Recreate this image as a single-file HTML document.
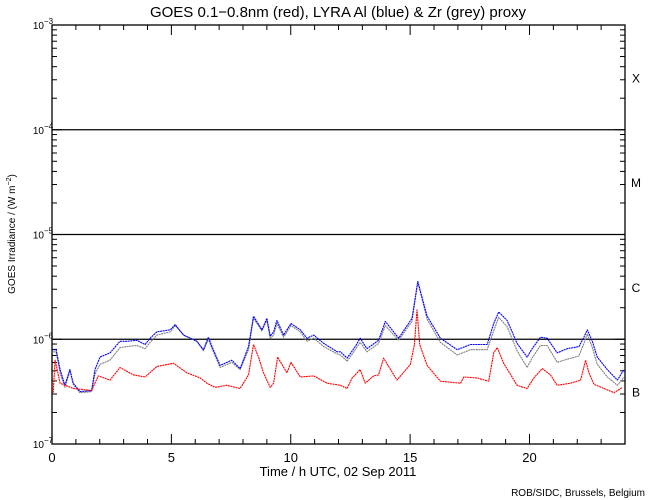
<!DOCTYPE html>
<html><head><meta charset="utf-8"><style>
html,body{margin:0;padding:0;background:#fff;}
svg{display:block;font-family:"Liberation Sans","DejaVu Sans",sans-serif;}
</style></head><body>
<svg id="chart" width="650" height="500" viewBox="0 0 650 500" xmlns="http://www.w3.org/2000/svg">
<rect width="650" height="500" fill="#fff"/>
<text x="338" y="17" text-anchor="middle" font-size="15" fill="#000">GOES 0.1−0.8nm (red), LYRA Al (blue) &amp; Zr (grey) proxy</text>
<g id="axes"></g>
<g id="series"></g>
<text transform="translate(15,234) rotate(-90)" text-anchor="middle" font-size="10" fill="#000">GOES Irradiance / (W m<tspan dy="-4" font-size="7">−2</tspan><tspan dy="4">)</tspan></text>
<text x="338" y="476" text-anchor="middle" font-size="13" fill="#000">Time / h UTC, 02 Sep 2011</text>
<text x="645" y="496" text-anchor="end" font-size="10" fill="#000">ROB/SIDC, Brussels, Belgium</text>
</svg>
<script>
const xTicks = [0,5,10,15,20];
const yDecades = [-7,-6,-5,-4,-3];
const classLabels = ['B','C','M','X'];
const classLevels = [-6.5,-5.5,-4.5,-3.5];

const blueT = [0.05,0.17,0.34,0.54,0.75,0.89,1.17,1.66,1.80,2.01,2.43,2.85,3.13,3.55,3.90,4.11,4.39,4.95,5.16,5.51,6.07,6.34,6.55,6.70,7.04,7.53,7.88,8.23,8.44,8.79,9.00,9.14,9.28,9.42,9.70,10.01,10.40,10.68,10.96,11.38,11.94,12.08,12.36,12.70,12.91,13.19,13.68,13.96,14.52,15.08,15.32,15.71,16.27,16.97,17.53,18.23,18.50,18.71,19.06,19.48,19.90,20.11,20.46,20.74,21.16,21.58,22.07,22.28,22.42,22.63,22.84,23.26,23.68,23.96];
const blueV = [-6.10,-6.10,-6.29,-6.44,-6.29,-6.42,-6.50,-6.49,-6.29,-6.17,-6.13,-6.02,-6.02,-6.01,-6.05,-5.99,-5.93,-5.91,-5.86,-5.96,-6.02,-6.10,-5.98,-6.07,-6.25,-6.20,-6.28,-6.07,-5.78,-5.91,-5.80,-5.97,-5.93,-5.82,-5.96,-5.85,-5.91,-5.99,-5.96,-6.04,-6.12,-6.12,-6.18,-6.07,-5.99,-6.09,-6.01,-5.83,-5.99,-5.80,-5.45,-5.78,-5.99,-6.10,-6.05,-6.05,-5.85,-5.74,-5.82,-6.04,-6.17,-6.09,-5.98,-5.99,-6.13,-6.09,-6.07,-5.98,-5.91,-6.02,-6.17,-6.29,-6.39,-6.29];
const greyV = [-6.12,-6.12,-6.32,-6.46,-6.30,-6.43,-6.51,-6.50,-6.33,-6.24,-6.20,-6.08,-6.07,-6.06,-6.09,-6.03,-5.96,-5.93,-5.87,-5.96,-6.02,-6.11,-6.00,-6.09,-6.27,-6.22,-6.29,-6.10,-5.80,-5.92,-5.82,-5.99,-5.96,-5.85,-5.98,-5.87,-5.93,-6.02,-5.99,-6.07,-6.14,-6.15,-6.21,-6.10,-6.03,-6.12,-6.04,-5.87,-6.01,-5.83,-5.45,-5.81,-6.03,-6.15,-6.10,-6.10,-5.92,-5.79,-5.88,-6.11,-6.27,-6.18,-6.06,-6.06,-6.22,-6.19,-6.16,-6.04,-5.95,-6.08,-6.24,-6.36,-6.44,-6.36];
const redT = [0.05,0.13,0.34,0.89,1.31,1.66,1.94,2.43,2.85,3.41,3.90,4.39,5.09,5.65,6.21,6.49,6.83,7.32,7.88,8.23,8.44,8.65,8.86,9.14,9.28,9.45,9.84,10.01,10.40,10.96,11.52,12.08,12.36,12.57,12.91,13.12,13.47,13.68,13.89,14.45,15.01,15.18,15.29,15.40,15.71,16.27,17.11,17.25,17.81,18.29,18.50,18.65,18.92,19.48,19.90,20.18,20.53,20.88,21.16,21.72,22.14,22.35,22.49,22.70,23.12,23.54,23.89];
const redV = [-6.51,-6.20,-6.42,-6.47,-6.48,-6.49,-6.35,-6.39,-6.27,-6.34,-6.36,-6.26,-6.23,-6.32,-6.37,-6.42,-6.46,-6.44,-6.47,-6.34,-6.05,-6.17,-6.32,-6.46,-6.42,-6.17,-6.32,-6.22,-6.36,-6.35,-6.42,-6.44,-6.47,-6.37,-6.29,-6.42,-6.35,-6.34,-6.18,-6.39,-6.24,-6.05,-5.72,-6.05,-6.25,-6.40,-6.42,-6.36,-6.37,-6.40,-6.13,-6.08,-6.23,-6.44,-6.47,-6.37,-6.28,-6.34,-6.44,-6.42,-6.39,-6.20,-6.32,-6.43,-6.47,-6.51,-6.46];

const NS='http://www.w3.org/2000/svg';
const L=52,R=625,T=25,B=444;
const xs=h=>L+(R-L)*h/24;
const ys=e=>T+(B-T)*(-3-e)/4;
const axes=document.getElementById('axes');
const series=document.getElementById('series');
function mk(tag,attrs,parent){const el=document.createElementNS(NS,tag);for(const k in attrs)el.setAttribute(k,attrs[k]);parent.appendChild(el);return el;}

const frame=mk('rect',{x:L,y:T,width:R-L,height:B-T,fill:'none',stroke:'#000','stroke-width':1.3},axes);



for(let h=0;h<=24;h++){
  const len=(h%5===0)?10:5;
  const x=xs(h);
  const t1=mk('line',{x1:x,y1:B,x2:x,y2:B-len,stroke:'#000','stroke-width':1},axes);
  
  
  const t2=mk('line',{x1:x,y1:T,x2:x,y2:T+len,stroke:'#000','stroke-width':1},axes);
  
  
}
xTicks.forEach(h=>{
  const tx=mk('text',{x:xs(h),y:462,'text-anchor':'middle','font-size':13,fill:'#000'},axes);
  tx.textContent=String(h);
  
  
});
yDecades.forEach(d=>{
  const y=ys(d);
  if(d>-7&&d<-3){
    const gl=mk('line',{x1:L,y1:y,x2:R,y2:y,stroke:'#000','stroke-width':1.3},axes);
    
    
  }
  mk('line',{x1:L,y1:y,x2:L+10,y2:y,stroke:'#000'},axes);
  mk('line',{x1:R,y1:y,x2:R-10,y2:y,stroke:'#000'},axes);
  if(d<-3){
    for(let m=2;m<=9;m++){
      const yy=ys(d+Math.log10(m));
      mk('line',{x1:L,y1:yy,x2:L+5,y2:yy,stroke:'#000'},axes);
      mk('line',{x1:R,y1:yy,x2:R-5,y2:yy,stroke:'#000'},axes);
    }
  }
  const lab=mk('text',{x:44,y:y+4,'text-anchor':'end','font-size':10,fill:'#000'},axes);
  lab.textContent='10';
  
  
  const sup=mk('text',{x:44,y:y-1,'font-size':8,fill:'#000'},axes);
  sup.textContent='−'+(-d);
});
classLabels.forEach((c,i)=>{
  const t=mk('text',{x:636,y:ys(classLevels[i])+5,'text-anchor':'middle','font-size':12,fill:'#000'},axes);
  t.textContent=c;
  
  
});

function drawLine(tArr,vArr,color,name){
  const pts=tArr.map((t,i)=>xs(t).toFixed(1)+','+ys(vArr[i]).toFixed(1)).join(' ');
  const pl=mk('polyline',{points:pts,fill:'none',stroke:color,'stroke-width':1.1,'stroke-dasharray':'2 0.6','stroke-linejoin':'round'},series);
  
  
}
drawLine(blueT,greyV,'#808080','zr-grey-series');
drawLine(blueT,blueV,'#0000ff','al-blue-series');
drawLine(redT,redV,'#ff0000','goes-red-series');
</script>
</body></html>
